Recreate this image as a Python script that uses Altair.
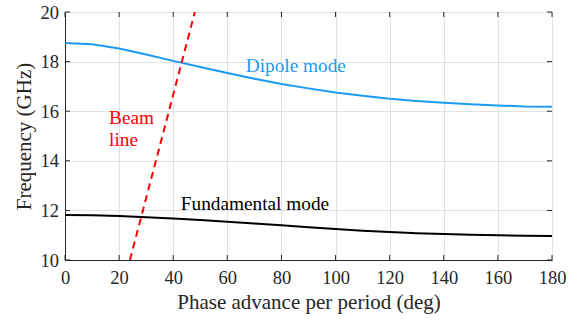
import altair as alt
import pandas as pd

# Phase advance (deg)
phase = [0, 10, 20, 30, 40, 50, 60, 70, 80, 90, 100, 110, 120, 130, 140, 150, 160, 170, 180]
dipole = [18.75, 18.70, 18.53, 18.29, 18.03, 17.78, 17.54, 17.31, 17.10, 16.92,
          16.75, 16.62, 16.50, 16.41, 16.34, 16.28, 16.23, 16.19, 16.18]
fundamental = [11.81, 11.80, 11.77, 11.72, 11.67, 11.61, 11.54, 11.47, 11.40, 11.32,
               11.25, 11.18, 11.13, 11.08, 11.05, 11.02, 11.00, 10.98, 10.97]
beam_phase = [24, 48]
beam_freq = [10, 20]

x_ticks = [0, 20, 40, 60, 80, 100, 120, 140, 160, 180]
y_ticks = [10, 12, 14, 16, 18, 20]

label_text = ["Dipole mode", "Beam", "line", "Fundamental mode"]
label_x = [66.8, 16.3, 16.3, 42.8]
label_y = [17.59, 15.48, 14.61, 12.02]
label_color = ["#1a9bf5", "#ff0000", "#ff0000", "#000000"]

W, H = 487, 248
FONT = "Liberation Serif"
AX = "#262626"

xs = alt.Scale(domain=[0, 180], nice=False)
ys = alt.Scale(domain=[10, 20], nice=False)

df_d = pd.DataFrame({"phase": phase, "f": dipole})
df_f = pd.DataFrame({"phase": phase, "f": fundamental})
df_b = pd.DataFrame({"phase": beam_phase, "f": beam_freq})
df_l = pd.DataFrame({"t": label_text, "x": label_x, "y": label_y, "c": label_color})
df_xt = pd.DataFrame({"v": x_ticks})
df_yt = pd.DataFrame({"v": y_ticks})

x_axis = alt.Axis(values=x_ticks, title="Phase advance per period (deg)", grid=True,
                  tickSize=0, labelPadding=8, titlePadding=5, labelFlush=False,
                  labelOverlap=False)
y_axis = alt.Axis(values=y_ticks, title="Frequency (GHz)", grid=True,
                  tickSize=0, labelPadding=6.5, titlePadding=6, labelFlush=False,
                  labelOverlap=False)

base_grid = alt.Chart(df_d).mark_line(opacity=0).encode(
    x=alt.X("phase:Q", scale=xs, axis=x_axis),
    y=alt.Y("f:Q", scale=ys, axis=y_axis),
)

dip = alt.Chart(df_d).mark_line(color="#1a9bf5", strokeWidth=2).encode(
    x=alt.X("phase:Q", scale=xs), y=alt.Y("f:Q", scale=ys))
fund = alt.Chart(df_f).mark_line(color="#000000", strokeWidth=2).encode(
    x=alt.X("phase:Q", scale=xs), y=alt.Y("f:Q", scale=ys))
beam = alt.Chart(df_b).mark_line(color="#ff0000", strokeWidth=2, strokeDash=[7, 5], clip=True).encode(
    x=alt.X("phase:Q", scale=xs), y=alt.Y("f:Q", scale=ys))

labels = alt.Chart(df_l).mark_text(font=FONT, fontSize=19.3, align="left", baseline="alphabetic").encode(
    x=alt.X("x:Q", scale=xs), y=alt.Y("y:Q", scale=ys),
    text="t:N", color=alt.Color("c:N", scale=None))

tb = alt.Chart(df_xt).mark_rule(color=AX, strokeWidth=1).encode(
    x=alt.X("v:Q", scale=xs), y=alt.value(H), y2=alt.value(H - 5))
tt = alt.Chart(df_xt).mark_rule(color=AX, strokeWidth=1).encode(
    x=alt.X("v:Q", scale=xs), y=alt.value(0), y2=alt.value(5))
tl = alt.Chart(df_yt).mark_rule(color=AX, strokeWidth=1).encode(
    y=alt.Y("v:Q", scale=ys), x=alt.value(0), x2=alt.value(5))
tr = alt.Chart(df_yt).mark_rule(color=AX, strokeWidth=1).encode(
    y=alt.Y("v:Q", scale=ys), x=alt.value(W), x2=alt.value(W - 5))

chart = alt.layer(base_grid, fund, dip, beam, labels, tb, tt, tl, tr).properties(
    width=W, height=H, autosize="none",
    padding={"left": 65, "top": 12, "right": 30, "bottom": 60},
).configure_view(stroke=AX, strokeWidth=1).configure_axis(
    labelFont=FONT, titleFont=FONT, labelFontSize=18.5, titleFontSize=21,
    labelColor=AX, titleColor=AX, titleFontWeight="normal",
    domainColor=AX, domainWidth=1, gridColor="#e2e2e2", gridWidth=1,
)

chart.save("out.html", embed_options={"renderer": "svg", "actions": False})
